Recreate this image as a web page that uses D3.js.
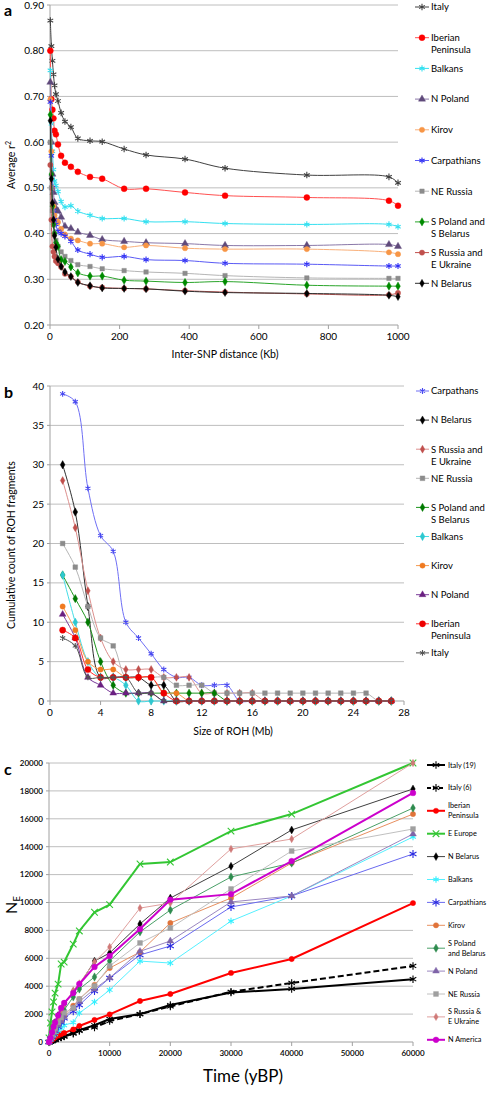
<!DOCTYPE html>
<html><head><meta charset="utf-8">
<script src="https://cdn.jsdelivr.net/npm/d3@7"></script>
<style>body{margin:0;background:#fff} svg{display:block} text{font-family:Lato,"Open Sans",sans-serif;fill:#000}</style>
</head><body><svg id="c" width="488" height="1095"></svg>
<script>
// ---------- Panel a data ----------
const xA = [1, 4, 7, 10, 13, 17, 23, 32, 43, 60, 80, 115, 150, 213, 276, 388, 503, 738, 974, 1000];
const italyA    = [0.866,0.810,0.778,0.748,0.724,0.705,0.690,0.664,0.645,0.633,0.608,0.603,0.601,0.585,0.572,0.563,0.543,0.528,0.524,0.511];
const iberianA  = [0.800,0.694,0.671,0.652,0.625,0.617,0.595,0.570,0.555,0.546,0.535,0.524,0.520,0.498,0.498,0.490,0.483,0.479,0.472,0.461];
const balkansA  = [0.757,0.640,0.580,0.540,0.515,0.505,0.492,0.470,0.458,0.461,0.449,0.440,0.433,0.433,0.426,0.426,0.422,0.420,0.420,0.415];
const npolandA  = [0.731,0.600,0.530,0.490,0.468,0.455,0.449,0.436,0.416,0.411,0.403,0.396,0.387,0.383,0.380,0.378,0.374,0.374,0.376,0.372];
const kirovA    = [0.693,0.580,0.500,0.460,0.440,0.430,0.425,0.410,0.398,0.389,0.385,0.378,0.378,0.370,0.374,0.368,0.366,0.366,0.359,0.355];
const carpA     = [0.688,0.570,0.500,0.450,0.430,0.420,0.405,0.400,0.394,0.383,0.364,0.355,0.348,0.350,0.343,0.341,0.335,0.333,0.329,0.329];
const neRussiaA = [0.600,0.500,0.450,0.420,0.400,0.385,0.372,0.360,0.350,0.341,0.332,0.328,0.323,0.319,0.316,0.313,0.308,0.303,0.302,0.302];
const spolandA  = [0.660,0.530,0.460,0.420,0.400,0.380,0.372,0.343,0.339,0.327,0.314,0.307,0.307,0.298,0.296,0.293,0.295,0.287,0.285,0.285];
const srussiaA  = [0.550,0.430,0.372,0.360,0.350,0.340,0.335,0.327,0.312,0.306,0.294,0.285,0.282,0.280,0.279,0.275,0.272,0.268,0.266,0.270];
const nbelarusA = [0.647,0.520,0.467,0.430,0.395,0.370,0.344,0.328,0.316,0.306,0.293,0.286,0.281,0.280,0.279,0.274,0.271,0.269,0.265,0.262];
const namesA = ["Italy","Iberian\nPeninsula","Balkans","N Poland","Kirov","Carpathians","NE Russia","S Poland and\nS Belarus","S Russia and\nE Ukraine","N Belarus"];
const xTicksA = [0,200,400,600,800,1000];
const yTicksA = [0.2,0.3,0.4,0.5,0.6,0.7,0.8,0.9];

// ---------- Panel b data ----------
const xB = [1,2,3,4,5,6,7,8,9,10,11,12,13,14,15,16,17,18,19,20,21,22,23,24,25,26,27];
const carpB   = [39,38,27,21,19,10,8,6,4,3,3,2,2,2,0,0,0,0,0,0,0,0,0,0,0,0,0];
const nbelB   = [30,24,12,3,3,3,3,2,2,0,0,0,0,0,0,0,0,0,0,0,0,0,0,0,0,0,0];
const srusB   = [28,22,14,8,5,4,4,4,3,3,3,1,1,1,1,1,0,0,0,0,0,0,0,0,0,0,0];
const neRusB  = [20,17,12,8,7,3,3,3,3,2,2,2,1,1,1,1,1,1,1,1,1,1,1,1,1,0,0];
const spolB   = [16,13,10,5,2,1,1,1,1,1,1,1,1,0,0,0,0,0,0,0,0,0,0,0,0,0,0];
const balkB   = [16,10,5,3,3,2,0,0,0,0,0,0,0,0,0,0,0,0,0,0,0,0,0,0,0,0,0];
const kirovB  = [12,9,5,4,4,3,3,3,1,1,0,0,0,0,0,0,0,0,0,0,0,0,0,0,0,0,0];
const npolB   = [11,8,3,2,1,1,1,1,0,0,0,0,0,0,0,0,0,0,0,0,0,0,0,0,0,0,0];
const iberB   = [9,8,4,3,3,3,3,3,1,0,0,0,0,0,0,0,0,0,0,0,0,0,0,0,0,0,0];
const italyB  = [8,7,3,3,3,3,1,1,0,0,0,0,0,0,0,0,0,0,0,0,0,0,0,0,0,0,0];
const namesB = ["Carpathans","N Belarus","S Russia and\nE Ukraine","NE Russia","S Poland and\nS Belarus","Balkans","Kirov","N Poland","Iberian\nPeninsula","Italy"];
const xTicksB = [0,4,8,12,16,20,24,28];
const yTicksB = [0,5,10,15,20,25,30,35,40];

// ---------- Panel c data ----------
const xC = [0,250,500,750,1000,1500,2000,2500,4000,5000,7500,10000,15000,20000,30000,40000,60000];
const italy19C = [0,50,100,150,200,280,350,420,650,850,1200,1650,2000,2650,3550,3800,4500];
const italy6C  = [0,40,80,120,170,250,320,390,600,800,1050,1500,2000,2550,3600,4230,5450];
const iberC    = [0,80,160,250,330,450,560,650,900,1150,1580,1980,2940,3440,4950,5950,9960];
const eeurC    = [300,1360,2150,2870,3500,4150,5590,5730,7020,7960,9300,9850,12760,12900,15120,16340,20000];
const nbelC    = [0,300,700,1100,1400,1900,2300,2700,3600,4100,5800,6380,8460,10320,12600,15200,18140];
const balkC    = [0,150,300,450,550,800,1000,1200,1400,2080,2870,3730,5800,5660,8670,10470,14700];
const carpC    = [0,200,400,600,800,1100,1400,1700,2200,2650,3660,4590,6240,6880,9680,10470,13480];
const kirovC   = [0,250,500,700,900,1300,1600,1900,2600,3080,4100,5300,6450,8530,10320,12830,16340];
const spolC    = [0,300,600,900,1200,1600,2000,2300,3230,3800,4660,5810,7890,9460,11830,12830,16770];
const npolC    = [0,200,450,650,850,1200,1500,1800,2400,2900,3800,4600,6500,7240,10040,10470,14910];
const neRusC   = [0,250,500,750,1000,1400,1750,2100,2440,3080,4010,5450,7100,8170,10970,13690,15270];
const srusC    = [0,350,700,1000,1300,1800,2300,2700,3700,4200,5730,6810,9600,9960,13840,14550,20000];
const namC     = [0,300,700,1100,1400,1900,2440,2800,3510,4160,5380,6170,8100,10200,10600,12970,17850];
const namesC = ["Italy (19)","Italy (6)","Iberian\nPeninsula","E Europe","N Belarus","Balkans","Carpathians","Kirov","S Poland\nand Belarus","N Poland","NE Russia","S Russia &\nE Ukraine","N America"];
const xTicksC = [0,10000,20000,30000,40000,50000,60000];
const yTicksC = [0,2000,4000,6000,8000,10000,12000,14000,16000,18000,20000];

// ---------- drawing ----------
const svg = d3.select('#c');
const SYM = {circle:d3.symbolCircle, diamond:d3.symbolDiamond, triangle:d3.symbolTriangle,
             square:d3.symbolSquare, star:d3.symbolAsterisk, x:d3.symbolTimes};
function marker(g, t, x, y, size, color){
  const open = (t==='star'||t==='x');
  g.append('path').attr('transform',`translate(${x},${y})`)
    .attr('d', d3.symbol().type(SYM[t]).size(size)())
    .attr('fill', open?'none':color).attr('stroke', color)
    .attr('stroke-width', open?1.1:0.4);
}

function panel(p){
  const g = svg.append('g');
  const x = d3.scaleLinear().domain(p.xd).range(p.xr);
  const y = d3.scaleLinear().domain(p.yd).range(p.yr);
  p.yt.forEach(v=>{
    if (v===p.yd[0]) return;
    g.append('line').attr('x1',p.xr[0]).attr('x2',p.xr[1]).attr('y1',y(v)).attr('y2',y(v))
      .attr('stroke','#bebebe').attr('stroke-width',1);
  });
  g.append('line').attr('x1',p.xr[0]).attr('x2',p.xr[0]).attr('y1',p.yr[0]).attr('y2',p.yr[1]).attr('stroke','#a0a0a0');
  g.append('line').attr('x1',p.xr[0]).attr('x2',p.xr[1]).attr('y1',p.yr[0]).attr('y2',p.yr[0]).attr('stroke','#a0a0a0');
  p.xt.forEach(v=>{
    g.append('line').attr('x1',x(v)).attr('x2',x(v)).attr('y1',p.yr[0]).attr('y2',p.yr[0]+4).attr('stroke','#a0a0a0');
    g.append('text').attr('x',x(v)).attr('y',p.yr[0]+p.xlOff).attr('text-anchor','middle')
      .attr('font-size',p.tfs).attr('font-weight',p.tfw||400).text(v);
  });
  p.yt.forEach(v=>{
    g.append('line').attr('x1',p.xr[0]-3).attr('x2',p.xr[0]).attr('y1',y(v)).attr('y2',y(v)).attr('stroke','#a0a0a0');
    g.append('text').attr('x',p.xr[0]-6).attr('y',y(v)+p.tfs*0.35).attr('text-anchor','end')
      .attr('font-size',p.tfs).attr('font-weight',p.tfw||400).text(p.yf(v));
  });
  const line = d3.line().curve(p.curve);
  p.series.forEach(s=>{
    const pts = p.xs.map((xv,i)=>[x(xv), y(s.v[i])]);
    g.append('path').attr('d',line(pts)).attr('fill','none')
      .attr('stroke',s.lc||s.c).attr('stroke-width',s.w||1).attr('stroke-dasharray',s.dash||null);
    pts.forEach(pt=>marker(g,s.m,pt[0],pt[1],s.ms||14,s.c));
  });
  p.series.forEach((s,i)=>{
    const ly = p.leg.y0 + i*p.leg.dy;
    const lines = p.names[i].split('\n');
    g.append('line').attr('x1',p.leg.x1).attr('x2',p.leg.x2).attr('y1',ly).attr('y2',ly)
      .attr('stroke',s.lc||s.c).attr('stroke-width',s.w||1).attr('stroke-dasharray',s.dash?'4,2':null);
    marker(g,s.m,(p.leg.x1+p.leg.x2)/2,ly,s.ms||14,s.c);
    const off = p.leg.center ? -(lines.length-1)*p.leg.lh/2 : 0;
    lines.forEach((t,j)=>{
      g.append('text').attr('x',p.leg.tx).attr('y',ly+off+j*p.leg.lh+p.leg.fs*0.35)
        .attr('font-size',p.leg.fs).text(t);
    });
  });
  return {g,x,y};
}

// Panel a
const pa = panel({
  xd:[0,1000], xr:[50,398], yd:[0.2,0.9], yr:[325,5], xt:xTicksA, yt:yTicksA,
  yf:d3.format('.2f'), tfs:10, xlOff:15, xs:xA, curve:d3.curveCatmullRom.alpha(0.5),
  names:namesA,
  leg:{x1:415,x2:429,tx:431,y0:7,dy:30.7,lh:12,fs:9.5,center:false},
  series:[
    {v:italyA,c:'#404040',m:'star',ms:30},
    {v:iberianA,c:'#ff0000',lc:'#ff5050',m:'circle',ms:28},
    {v:balkansA,c:'#33e0f0',m:'star',ms:26},
    {v:npolandA,c:'#5f4a7b',lc:'#8a78a8',m:'triangle',ms:22},
    {v:kirovA,c:'#f79646',lc:'#f9b07a',m:'circle',ms:22},
    {v:carpA,c:'#2f2ff5',lc:'#5a5af5',m:'star',ms:26},
    {v:neRussiaA,c:'#8c8c8c',lc:'#b5b5b5',m:'square',ms:20},
    {v:spolandA,c:'#008a00',lc:'#2aa52a',m:'diamond',ms:20},
    {v:srussiaA,c:'#c0504d',lc:'#c0504d',m:'circle',ms:22},
    {v:nbelarusA,c:'#000000',lc:'#303030',m:'diamond',ms:18}
  ]
});
pa.g.append('text').attr('x',225).attr('y',358).attr('text-anchor','middle').attr('font-size',10.5).text('Inter-SNP distance (Kb)');
const ta = pa.g.append('text').attr('transform','translate(15,165) rotate(-90)').attr('text-anchor','middle').attr('font-size',10.5);
ta.append('tspan').text('Average r');
ta.append('tspan').attr('dy',-4).attr('font-size',7).text('2');
svg.append('text').attr('x',4).attr('y',16).attr('font-family','Liberation Sans, Arial, sans-serif').attr('font-weight','bold').attr('font-size',16).text('a');

// Panel b
const pb = panel({
  xd:[0,28], xr:[50,404], yd:[0,40], yr:[701,386], xt:xTicksB, yt:yTicksB,
  yf:d3.format('d'), tfs:10, xlOff:15, xs:xB, curve:d3.curveCatmullRom.alpha(0.5),
  names:namesB,
  leg:{x1:416,x2:429,tx:431,y0:391,dy:29.1,lh:12,fs:9.5,center:false},
  series:[
    {v:carpB,c:'#4848f0',lc:'#6f6ff5',m:'star',ms:24},
    {v:nbelB,c:'#000000',lc:'#303030',m:'diamond',ms:20},
    {v:srusB,c:'#c0504d',lc:'#dd8f8d',m:'diamond',ms:18},
    {v:neRusB,c:'#8c8c8c',lc:'#b5b5b5',m:'square',ms:22},
    {v:spolB,c:'#007a00',lc:'#1e961e',m:'diamond',ms:20},
    {v:balkB,c:'#2ec8d0',lc:'#44dde6',m:'diamond',ms:20},
    {v:kirovB,c:'#f07a20',lc:'#f59a50',m:'circle',ms:22},
    {v:npolB,c:'#6a2080',lc:'#7a3a9a',m:'triangle',ms:20},
    {v:iberB,c:'#ee0000',lc:'#ff3030',m:'circle',ms:30},
    {v:italyB,c:'#555555',lc:'#505050',m:'star',ms:24}
  ]
});
pb.g.append('text').attr('x',233).attr('y',735).attr('text-anchor','middle').attr('font-size',10.5).text('Size of ROH (Mb)');
pb.g.append('text').attr('transform','translate(15,545) rotate(-90)').attr('text-anchor','middle').attr('font-size',10.5).text('Cumulative count of ROH fragments');
svg.append('text').attr('x',4).attr('y',398).attr('font-family','Liberation Sans, Arial, sans-serif').attr('font-weight','bold').attr('font-size',16).text('b');

// Panel c
const pc = panel({
  xd:[0,60000], xr:[49,413], yd:[0,20000], yr:[1042,763], xt:xTicksC, yt:yTicksC,
  yf:d3.format('d'), tfs:8, tfw:600, xlOff:14, xs:xC, curve:d3.curveLinear,
  names:namesC,
  leg:{x1:427,x2:445,tx:448,y0:765,dy:22.9,lh:10,fs:7.3,center:true},
  series:[
    {v:italy19C,c:'#000000',m:'star',ms:40,w:2},
    {v:italy6C,c:'#000000',m:'star',ms:40,w:2,dash:'6,3'},
    {v:iberC,c:'#ff0000',m:'circle',ms:22,w:2},
    {v:eeurC,c:'#33c633',m:'x',ms:30,w:2},
    {v:nbelC,c:'#000000',lc:'#404040',m:'diamond',ms:18},
    {v:balkC,c:'#33f0ff',lc:'#55f0ff',m:'star',ms:30},
    {v:carpC,c:'#2a2ae0',lc:'#6a6af0',m:'star',ms:45},
    {v:kirovC,c:'#e0733a',lc:'#e89060',m:'circle',ms:22},
    {v:spolC,c:'#2e8b4e',lc:'#4aa068',m:'diamond',ms:20},
    {v:npolC,c:'#7f64a8',lc:'#9a86c0',m:'triangle',ms:20},
    {v:neRusC,c:'#a0a0a0',lc:'#c0c0c0',m:'square',ms:24},
    {v:srusC,c:'#d07a78',lc:'#e0a09e',m:'diamond',ms:16},
    {v:namC,c:'#cc00cc',m:'circle',ms:26,w:2}
  ]
});
pc.g.append('text').attr('x',243).attr('y',1082).attr('text-anchor','middle').attr('font-size',17).text('Time (yBP)');
const tc = pc.g.append('text').attr('transform','translate(17,905) rotate(-90)').attr('text-anchor','middle').attr('font-size',16);
tc.append('tspan').text('N');
tc.append('tspan').attr('dy',3).attr('font-size',10).text('E');
svg.append('text').attr('x',4).attr('y',775).attr('font-family','Liberation Sans, Arial, sans-serif').attr('font-weight','bold').attr('font-size',16).text('c');
</script></body></html>
